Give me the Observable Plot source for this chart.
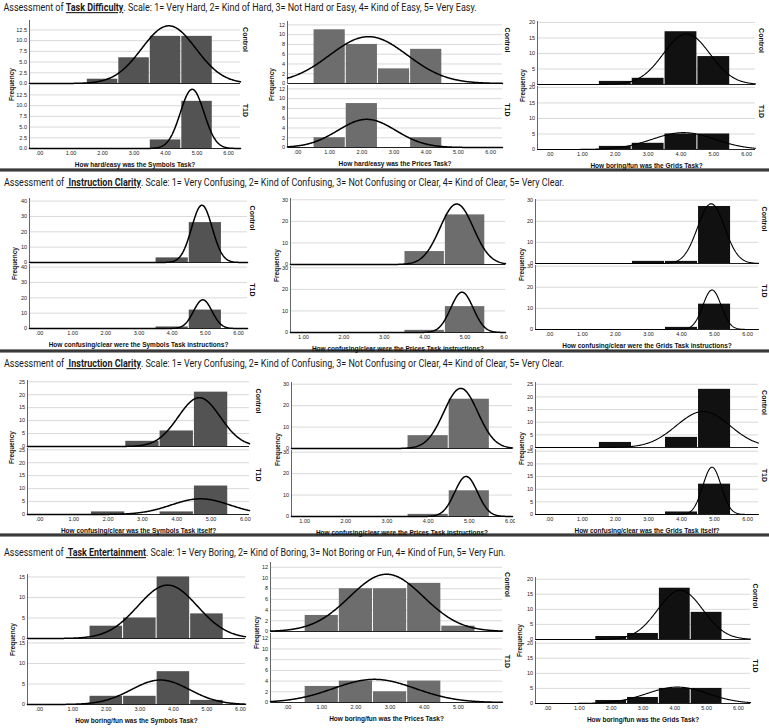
<!DOCTYPE html>
<html>
<head>
<meta charset="utf-8">
<script src="https://cdn.jsdelivr.net/npm/d3@7"></script>
<script src="https://cdn.jsdelivr.net/npm/@observablehq/plot@0.6"></script>
<style>
  html, body { margin: 0; padding: 0; background: #fff; }
  body { width: 769px; height: 728px; position: relative; overflow: hidden; }
  .panel { position: absolute; overflow: hidden; }
  .sep { position: absolute; left: 0; width: 769px; height: 4px;
         background: linear-gradient(to bottom, #aaa, #222 45%, #333 60%, #bbb); }
  .title { position: absolute; left: 0; }
</style>
</head>
<body>
<script>
// ---------------- DATA ----------------
const scores = [1, 2, 3, 4, 5];
const groups = ["Control", "T1D"];

const difficultySymbolsControl = [0, 1, 6, 11, 11];
const difficultySymbolsT1D     = [0, 0, 0, 2, 11];
const difficultyPricesControl  = [11, 8, 3, 7, 0];
const difficultyPricesT1D      = [2, 9, 0, 2, 0];
const difficultyGridsControl   = [0, 1, 2, 17, 9];
const difficultyGridsT1D       = [0, 1, 2, 5, 5];

const instructionsSymbolsControl = [0, 0, 0, 3, 26];
const instructionsSymbolsT1D     = [0, 0, 0, 1, 12];
const instructionsPricesControl  = [0, 0, 0, 6, 23];
const instructionsPricesT1D      = [0, 0, 0, 1, 12];
const instructionsGridsControl   = [0, 0, 1, 1, 27];
const instructionsGridsT1D       = [0, 0, 0, 1, 12];

const itselfSymbolsControl = [0, 0, 2, 6, 21];
const itselfSymbolsT1D     = [0, 1, 0, 1, 11];
const itselfPricesControl  = [0, 0, 0, 6, 23];
const itselfPricesT1D      = [0, 0, 0, 1, 12];
const itselfGridsControl   = [0, 2, 0, 4, 23];
const itselfGridsT1D       = [0, 0, 0, 1, 12];

const funSymbolsControl = [0, 3, 5, 15, 6];
const funSymbolsT1D     = [0, 2, 2, 8, 1];
const funPricesControl  = [3, 8, 8, 9, 1];
const funPricesT1D      = [3, 4, 2, 4, 0];
const funGridsControl   = [0, 1, 2, 17, 9];
const funGridsT1D       = [0, 1, 2, 5, 5];

const xTicksFrom0 = [0, 1, 2, 3, 4, 5, 6];
const xTicksFrom1 = [1, 2, 3, 4, 5, 6];
const yTicks12_5 = [0, 2.5, 5, 7.5, 10, 12.5];
const yTicks12 = [0, 2, 4, 6, 8, 10, 12];
const yTicks15 = [0, 5, 10, 15];
const yTicks20 = [0, 5, 10, 15, 20];
const yTicks25 = [0, 5, 10, 15, 20, 25];
const yTicks30 = [0, 10, 20, 30];
const yTicks40 = [0, 10, 20, 30, 40];

const xLabels = [
  "How hard/easy was the Symbols Task?",
  "How hard/easy was the Prices Task?",
  "How boring/fun was the Grids Task?",
  "How confusing/clear were the Symbols Task instructions?",
  "How confusing/clear were the Prices Task instructions?",
  "How confusing/clear were the Grids Task instructions?",
  "How confusing/clear was the Symbols Task itself?",
  "How confusing/clear were the Prices Task instructions?",
  "How confusing/clear was the Grids Task itself?",
  "How boring/fun was the Symbols Task?",
  "How boring/fun was the Prices Task?",
  "How boring/fun was the Grids Task?"
];

const titleLead = "Assessment of ";
const titleKeys = ["Task Difficulty", " Instruction Clarity", " Instruction Clarity", " Task Entertainment"];
const titleRests = [
  ". Scale: 1= Very Hard, 2= Kind of Hard, 3= Not Hard or Easy, 4= Kind of Easy, 5= Very Easy.",
  ". Scale: 1= Very Confusing, 2= Kind of Confusing, 3= Not Confusing or Clear, 4= Kind of Clear, 5= Very Clear.",
  ". Scale: 1= Very Confusing, 2= Kind of Confusing, 3= Not Confusing or Clear, 4= Kind of Clear, 5= Very Clear.",
  ". Scale: 1= Very Boring, 2= Kind of Boring, 3= Not Boring or Fun, 4= Kind of Fun, 5= Very Fun."
];

// ---------------- LAYOUT ----------------
const C1 = "#535353", C2 = "#6d6d6d", C3 = "#111111";
const fmt1 = d => d.toFixed(1);
const fmt0 = d => String(d);
const fmtX = d => d === 0 ? ".00" : d.toFixed(2);

const panels = [
  {counts: [difficultySymbolsControl, difficultySymbolsT1D], fill: C1, cw: 1.5, box: [29, 20, 240, 148], xd: [-0.32, 6.38], ymax: 14.7, yt: yTicks12_5, yf: fmt1, xt: xTicksFrom0, freqX: 12, facetX: 245},
  {counts: [difficultyPricesControl, difficultyPricesT1D], fill: C2, cw: 1.5, box: [287, 20, 502, 147], xd: [-0.31, 6.37], ymax: 12.7, yt: yTicks12, yf: fmt0, xt: xTicksFrom0, freqX: 272, facetX: 507},
  {counts: [difficultyGridsControl, difficultyGridsT1D], fill: C3, cw: 1.1, box: [537, 20, 755, 149], xd: [-0.37, 6.27], ymax: 20.3, yt: yTicks20, yf: fmt0, xt: xTicksFrom0, freqX: 523, facetX: 761},
  {counts: [instructionsSymbolsControl, instructionsSymbolsT1D], fill: C1, cw: 1.5, box: [29, 198, 247, 328], xd: [-0.3, 6.27], ymax: 41.7, yt: yTicks40, yf: fmt0, xt: xTicksFrom0, freqX: 15, facetX: 252},
  {counts: [instructionsPricesControl, instructionsPricesT1D], fill: C2, cw: 1.5, box: [290, 198, 505, 332], xd: [0.68, 6.0], ymax: 30.6, yt: yTicks30, yf: fmt0, xt: xTicksFrom1, freqX: 277, facetX: null},
  {counts: [instructionsGridsControl, instructionsGridsT1D], fill: C3, cw: 1.1, box: [535, 198, 758, 329], xd: [-0.42, 6.33], ymax: 30.3, yt: yTicks30, yf: fmt0, xt: xTicksFrom0, freqX: 522, facetX: 764},
  {counts: [itselfSymbolsControl, itselfSymbolsT1D], fill: C1, cw: 1.5, box: [27, 379, 249, 514], xd: [-0.35, 6.12], ymax: 25.5, yt: yTicks25, yf: fmt0, xt: xTicksFrom0, freqX: 12, facetX: 258},
  {counts: [itselfPricesControl, itselfPricesT1D], fill: C2, cw: 1.5, box: [291, 382, 512, 516], xd: [0.68, 6.05], ymax: 30.8, yt: yTicks30, yf: fmt0, xt: xTicksFrom1, freqX: 278, facetX: null},
  {counts: [itselfGridsControl, itselfGridsT1D], fill: C3, cw: 1.1, box: [535, 382, 758, 514], xd: [-0.42, 6.33], ymax: 25.7, yt: yTicks25, yf: fmt0, xt: xTicksFrom0, freqX: 522, facetX: 764},
  {counts: [funSymbolsControl, funSymbolsT1D], fill: C1, cw: 1.5, box: [27, 573, 245, 704], xd: [-0.35, 6.15], ymax: 15.6, yt: yTicks15, yf: fmt0, xt: xTicksFrom0, freqX: 13, facetX: null},
  {counts: [funPricesControl, funPricesT1D], fill: C2, cw: 1.5, box: [270, 562, 502, 702], xd: [-0.5, 6.29], ymax: 12.9, yt: yTicks12, yf: fmt0, xt: xTicksFrom0, freqX: 257, facetX: 507},
  {counts: [funGridsControl, funGridsT1D], fill: C3, cw: 1.1, box: [535, 576, 750, 703], xd: [-0.38, 6.38], ymax: 20.55, yt: yTicks20, yf: fmt0, xt: xTicksFrom0, freqX: 520, facetX: 755}
];

const titleLayout = [
  {baseline: 11, x0: 3.5, x1: 477},
  {baseline: 186, x0: 4, x1: 565},
  {baseline: 366.5, x0: 4, x1: 565},
  {baseline: 556, x0: 4, x1: 506}
];
const sepTops = [167.5, 349, 533];

// ---------------- DRAW ----------------
function normalCurve(counts, group, domain) {
  const n = d3.sum(counts);
  const mean = d3.sum(scores, (s, i) => s * counts[i]) / n;
  const ss = d3.sum(scores, (s, i) => counts[i] * (s - mean) ** 2);
  const sd = Math.sqrt(ss / (n - 1));
  const xs = d3.range(domain[0], domain[1], 0.02).concat([domain[1]]);
  return xs.map(x => ({group, x, y: n / (sd * Math.sqrt(2 * Math.PI)) * Math.exp(-0.5 * ((x - mean) / sd) ** 2)}));
}

const font = "'Liberation Sans', Arial, sans-serif";

sepTops.forEach(top => {
  const d = document.createElement("div");
  d.className = "sep";
  d.style.top = top + "px";
  document.body.appendChild(d);
});

panels.forEach((p, idx) => {
  const [pl, pt, pr, pb] = p.box;
  const mL = pl - (p.freqX - 7);
  const mR = p.facetX ? (p.facetX + 6 - pr) : 3;
  const mT = 2, mB = 24;
  const width = mL + (pr - pl) + mR;
  const height = mT + (pb - pt) + mB;

  const bars = [];
  groups.forEach((g, gi) => p.counts[gi].forEach((c, i) => {
    if (c > 0) bars.push({group: g, score: scores[i], count: c});
  }));
  const curve = groups.flatMap((g, gi) => normalCurve(p.counts[gi], g, p.xd));

  const marks = [
    Plot.gridY(p.yt, {stroke: "#cfcfcf", strokeOpacity: 1, strokeWidth: 0.8}),
    Plot.rectY(bars, {x1: d => d.score - 0.5, x2: d => d.score + 0.5, y: "count", fy: "group",
                      fill: p.fill, insetLeft: 0.5, insetRight: 0.5}),
    Plot.ruleY([0], {stroke: "#222", strokeWidth: 1}),
    Plot.frame({anchor: "left", stroke: "#666"}),
    Plot.line(curve, {x: "x", y: "y", fy: "group", stroke: "#000", strokeWidth: p.cw}),
    Plot.axisY({ticks: p.yt, tickFormat: p.yf, tickSize: 0, tickPadding: 2.5, fontSize: 5.5, label: null, fill: "#222"}),
    Plot.axisY({ticks: [], label: "Frequency", labelAnchor: "center", labelArrow: "none",
                labelOffset: mL - 3.75, fontSize: 6.5, fontWeight: "bold", fill: "#111"}),
    Plot.axisX({ticks: p.xt, tickFormat: fmtX, tickSize: 0, tickPadding: 2.5, fontSize: 5.5, label: null, fill: "#222"}),
    Plot.axisX({ticks: [], label: xLabels[idx], labelAnchor: "center", labelArrow: "none",
                labelOffset: 18, fontSize: 6.5, fontWeight: "bold", fill: "#111"})
  ];
  if (p.facetX) {
    marks.push(Plot.text(groups, {fy: d => d, text: d => d, frameAnchor: "right", dx: p.facetX - pr,
                                  rotate: 90, fontSize: 7, fontWeight: "bold", fill: "#111"}));
  }

  const svg = Plot.plot({
    width, height,
    marginLeft: mL, marginRight: mR, marginTop: mT, marginBottom: mB,
    style: {fontFamily: font, background: "transparent"},
    x: {domain: p.xd},
    y: {domain: [0, p.ymax]},
    fy: {domain: groups, paddingInner: 0.035, paddingOuter: 0, axis: null, label: null},
    marks
  });
  const div = document.createElement("div");
  div.className = "panel";
  div.style.left = (pl - mL) + "px";
  div.style.top = (pt - mT) + "px";
  div.style.width = width + "px";
  div.style.height = height + "px";
  div.appendChild(svg);
  document.body.appendChild(div);
});

// titles
const NS = "http://www.w3.org/2000/svg";
titleLayout.forEach((t, i) => {
  const svg = document.createElementNS(NS, "svg");
  svg.setAttribute("class", "title");
  svg.setAttribute("width", 769);
  svg.setAttribute("height", 18);
  svg.style.top = (t.baseline - 13) + "px";
  const g = document.createElementNS(NS, "g");
  const text = document.createElementNS(NS, "text");
  text.setAttribute("x", 0);
  text.setAttribute("y", 13);
  text.setAttribute("font-family", "Roboto, 'Noto Sans', sans-serif");
  text.setAttribute("font-size", "11");
  text.setAttribute("fill", "#1a1a1a");
  const a = document.createElementNS(NS, "tspan"); a.textContent = titleLead;
  const b = document.createElementNS(NS, "tspan"); b.textContent = titleKeys[i];
  b.setAttribute("font-weight", "bold"); b.setAttribute("text-decoration", "underline");
  const c = document.createElementNS(NS, "tspan"); c.textContent = titleRests[i];
  text.append(a, b, c);
  text.style.whiteSpace = "pre";
  g.appendChild(text);
  svg.appendChild(g);
  document.body.appendChild(svg);
  const w = text.getComputedTextLength();
  const sx = (t.x1 - t.x0) / w;
  g.setAttribute("transform", `translate(${t.x0},0) scale(${sx},1)`);
});
</script>
</body>
</html>
